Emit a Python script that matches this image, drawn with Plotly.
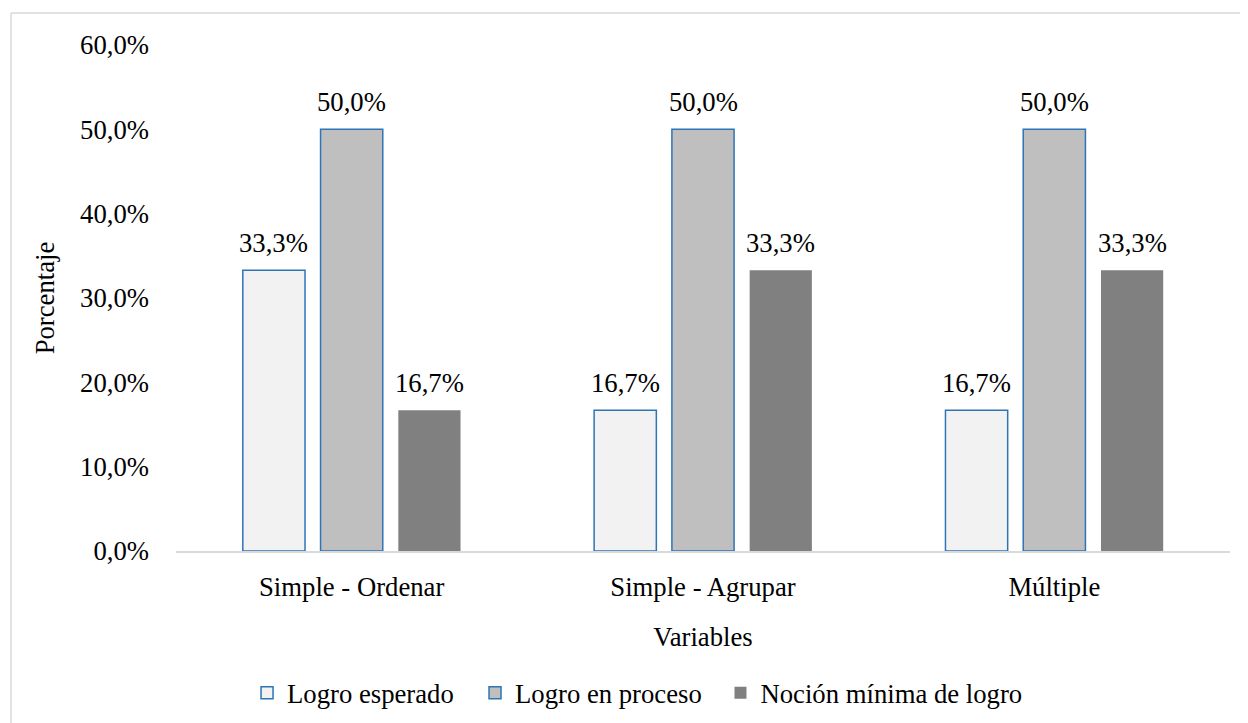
import plotly.graph_objects as go

categorias = ["Simple - Ordenar", "Simple - Agrupar", "Múltiple"]
logro_esperado = [33.3, 16.7, 16.7]
logro_en_proceso = [50.0, 50.0, 50.0]
nocion_minima = [16.7, 33.3, 33.3]
y_ticks = [0, 10, 20, 30, 40, 50, 60]

FONT = "Liberation Serif"
BLUE = "#2E75B6"
GRIS_LINEA = "#D9D9D9"
TXT = dict(family=FONT, size=26.7, color="#000000")


def etiqueta(v):
    return f"{v:.1f}%".replace(".", ",")


series = [
    ("Logro esperado", logro_esperado, "#F2F2F2", BLUE, 1.5),
    ("Logro en proceso", logro_en_proceso, "#BFBFBF", BLUE, 1.5),
    ("Noción mínima de logro", nocion_minima, "#808080", "#808080", 0),
]
legend_x = [0.0674, 0.2837, 0.5166]  # una leyenda por serie, como en Excel

fig = go.Figure()
anotaciones = []
paso = 77.75  # separacion en px entre barras de un grupo
for i, (nombre, valores, fill, line, lw) in enumerate(series):
    fig.add_trace(go.Bar(
        x=categorias, y=valores, name=nombre,
        marker=dict(color=fill, line=dict(color=line, width=lw)),
        legend="legend" if i == 0 else f"legend{i + 1}",
    ))
    for cat, v in zip(categorias, valores):
        anotaciones.append(dict(
            x=cat, y=v, xref="x", yref="y", text=etiqueta(v), showarrow=False,
            yanchor="bottom", yshift=10, xshift=(i - 1) * paso, font=TXT,
        ))

leyendas = {}
for i, lx in enumerate(legend_x):
    key = "legend" if i == 0 else f"legend{i + 1}"
    leyendas[key] = dict(orientation="h", x=lx, xanchor="left", y=-0.233,
                         yanchor="top", font=TXT, itemwidth=30,
                         bgcolor="rgba(0,0,0,0)")

# la pagina desplaza 8 px la figura (margen del body)
fig.update_layout(
    width=1240, height=715,
    plot_bgcolor="#FFFFFF", paper_bgcolor="#FFFFFF",
    font=TXT,
    margin=dict(l=168, r=18, t=37, b=172, autoexpand=False),
    barmode="group", bargap=0.336, bargroupgap=0.2,
    showlegend=True,
    xaxis=dict(title=dict(text="Variables", standoff=27, font=TXT), showline=True,
               linecolor=GRIS_LINEA, linewidth=1.5, ticks="", tickfont=TXT,
               ticklabelstandoff=11),
    yaxis=dict(title=dict(text="Porcentaje", standoff=17, font=TXT), range=[0, 60],
               tickvals=y_ticks, ticktext=[etiqueta(v) for v in y_ticks],
               showgrid=False, zeroline=False, ticks="", tickfont=TXT,
               ticklabelstandoff=26),
    annotations=anotaciones,
    shapes=[
        dict(type="line", xref="paper", yref="paper", x0=-0.1565, x1=1.1,
             y0=1.0632, y1=1.0632, line=dict(color=GRIS_LINEA, width=1.5)),
        dict(type="line", xref="paper", yref="paper", x0=-0.1565, x1=-0.1565,
             y0=1.0632, y1=-0.4, line=dict(color=GRIS_LINEA, width=1.5)),
    ],
    **leyendas,
)

fig.write_html("out.html")
